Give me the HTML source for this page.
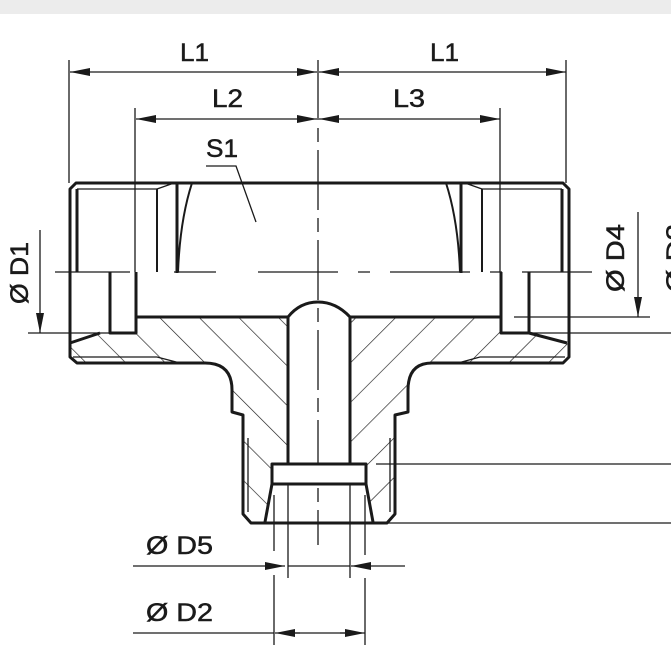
<!DOCTYPE html>
<html><head><meta charset="utf-8"><style>
html,body{margin:0;padding:0;background:#fff;width:671px;height:671px;overflow:hidden}
svg{display:block}
text{font-family:"Liberation Sans",sans-serif;fill:#1a1a1a;stroke:#1a1a1a;stroke-width:0.5}
</style></head><body>
<svg width="671" height="671" viewBox="0 0 671 671" xmlns="http://www.w3.org/2000/svg">
<defs>
<pattern id="hl" width="28" height="28" patternUnits="userSpaceOnUse" patternTransform="rotate(-45)"><line x1="0" y1="0" x2="0" y2="28" stroke="#1a1a1a" stroke-width="1.3"/></pattern>
<pattern id="hr" width="28" height="28" patternUnits="userSpaceOnUse" patternTransform="rotate(45)"><line x1="0" y1="0" x2="0" y2="28" stroke="#1a1a1a" stroke-width="1.3"/></pattern>
<marker id="a" viewBox="0 0 20 8" refX="20" refY="4" markerWidth="20" markerHeight="8" markerUnits="userSpaceOnUse" orient="auto-start-reverse"><path d="M0,0 L20,4 L0,8 z" fill="#1a1a1a"/></marker>
</defs>
<rect x="0" y="0" width="671" height="14" fill="#ececec"/>

<path d="M70,343 L100,333 L136,333 L136,317 L288,317 L288,464 L272,464 L272,484 L265,522 L251,522 L243,514 L243,415 L232,412 L232,390 Q230,363 205,363 L77,363 L70,357 Z" fill="url(#hl)"/>
<path d="M569,343 L529,333 L501,333 L501,317 L350,317 L350,464 L366,464 L366,484 L373,522 L387,522 L395,514 L395,415 L408,412 L408,390 Q410,363 432,363 L563,363 L569,357 Z" fill="url(#hr)"/>

<g stroke="#1a1a1a" fill="none" stroke-width="1.3">
<line x1="69" y1="60" x2="69" y2="183"/><line x1="566" y1="60" x2="566" y2="183"/>
<line x1="135" y1="108" x2="135" y2="272"/><line x1="500" y1="108" x2="500" y2="272"/>
<line x1="70" y1="72" x2="317" y2="72" marker-start="url(#a)" marker-end="url(#a)"/>
<line x1="319" y1="72" x2="566" y2="72" marker-start="url(#a)" marker-end="url(#a)"/>
<line x1="136" y1="119" x2="317" y2="119" marker-start="url(#a)" marker-end="url(#a)"/>
<line x1="319" y1="119" x2="500" y2="119" marker-start="url(#a)" marker-end="url(#a)"/>
<polyline points="206,166 236,166 256,222"/>
<line x1="318" y1="60" x2="318" y2="545" stroke-dasharray="60,8,14,8"/>
<polyline points="55,272 130,272"/><line x1="174" y1="272" x2="216" y2="272"/><line x1="258" y1="272" x2="592" y2="272" stroke-dasharray="80,20,12,20"/>
<line x1="28" y1="333" x2="110" y2="333"/>
<line x1="40" y1="230" x2="40" y2="333" marker-end="url(#a)"/>
<line x1="514" y1="317" x2="650" y2="317"/>
<line x1="638" y1="212" x2="638" y2="317" marker-end="url(#a)"/>
<line x1="529" y1="333" x2="671" y2="333"/>
<line x1="376" y1="464" x2="671" y2="464"/>
<line x1="387" y1="523" x2="671" y2="523"/>
<line x1="133" y1="566" x2="285" y2="566" marker-end="url(#a)"/>
<line x1="405" y1="566" x2="351" y2="566" marker-end="url(#a)"/>
<line x1="288" y1="566" x2="350" y2="566"/>
<line x1="133" y1="633" x2="274" y2="633"/>
<line x1="294" y1="633" x2="345" y2="633"/>
<line x1="275" y1="633" x2="300" y2="633" marker-start="url(#a)"/>
<line x1="340" y1="633" x2="365" y2="633" marker-end="url(#a)"/>
<line x1="274" y1="495" x2="274" y2="551"/><line x1="274" y1="575" x2="274" y2="645"/>
<line x1="288" y1="475" x2="288" y2="578"/><line x1="350" y1="475" x2="350" y2="578"/>
<line x1="365" y1="495" x2="365" y2="555"/><line x1="365" y1="578" x2="365" y2="645"/>
<line x1="77" y1="189" x2="157" y2="189"/><line x1="157" y1="189" x2="174" y2="183"/>
<line x1="482" y1="189" x2="562" y2="189"/><line x1="482" y1="189" x2="465" y2="183"/>
<polyline points="73,357 157,357 180,363"/>
<polyline points="565,357 480,357 458,363"/>
<line x1="248" y1="438" x2="248" y2="512"/><line x1="390" y1="438" x2="390" y2="512"/>
</g>

<g stroke="#1a1a1a" fill="none" stroke-width="3" stroke-linejoin="round">
<path d="M76,183 L563,183 L569,189 L569,357 L563,363 L432,363 Q408,363 408,390 L408,412 L395,415 L395,514 L387,523 L251,523 L243,514 L243,415 L232,412 L232,390 Q232,363 205,363 L77,363 L70,357 L70,189 Z"/>
<line x1="77" y1="189" x2="77" y2="272"/><line x1="562" y1="189" x2="562" y2="272"/>
<line x1="157" y1="189" x2="157" y2="272" stroke-width="2"/><line x1="482" y1="189" x2="482" y2="272" stroke-width="2"/>
<line x1="177" y1="183" x2="177" y2="273"/><line x1="461" y1="183" x2="461" y2="273"/>
<path d="M192,183 Q180,220 178,272" stroke-width="2"/><path d="M446,183 Q458,220 460,272" stroke-width="2"/>
<polyline points="110,272 110,333 136,333 136,272"/>
<polyline points="501,272 501,333 529,333 529,272"/>
<polyline points="136,317 288,317"/><polyline points="350,317 501,317"/>
<line x1="70" y1="343" x2="100" y2="333"/><line x1="529" y1="333" x2="567" y2="343"/>
<path d="M288,317 Q300,302 318,302 Q336,302 350,317"/>
<line x1="288" y1="317" x2="288" y2="464"/><line x1="350" y1="317" x2="350" y2="464"/>
<rect x="272" y="464" width="94" height="20" fill="#fff"/>
<line x1="272" y1="484" x2="265" y2="522"/><line x1="366" y1="484" x2="373" y2="522"/>
</g>

<g font-size="25">
<text x="180" y="61" textLength="29" lengthAdjust="spacingAndGlyphs">L1</text>
<text x="430" y="61" textLength="29" lengthAdjust="spacingAndGlyphs">L1</text>
<text x="212" y="107" textLength="31" lengthAdjust="spacingAndGlyphs">L2</text>
<text x="393" y="107" textLength="32" lengthAdjust="spacingAndGlyphs">L3</text>
<text x="206" y="157" textLength="32" lengthAdjust="spacingAndGlyphs">S1</text>
<text x="146" y="554" textLength="67" lengthAdjust="spacingAndGlyphs">Ø D5</text>
<text x="146" y="621" textLength="67" lengthAdjust="spacingAndGlyphs">Ø D2</text>
<text transform="translate(28,304) rotate(-90)" textLength="62" lengthAdjust="spacingAndGlyphs">Ø D1</text>
<text transform="translate(624,292) rotate(-90)" textLength="68" lengthAdjust="spacingAndGlyphs">Ø D4</text>
<text transform="translate(684,292) rotate(-90)" textLength="68" lengthAdjust="spacingAndGlyphs">Ø D3</text>
</g>
</svg>
</body></html>
